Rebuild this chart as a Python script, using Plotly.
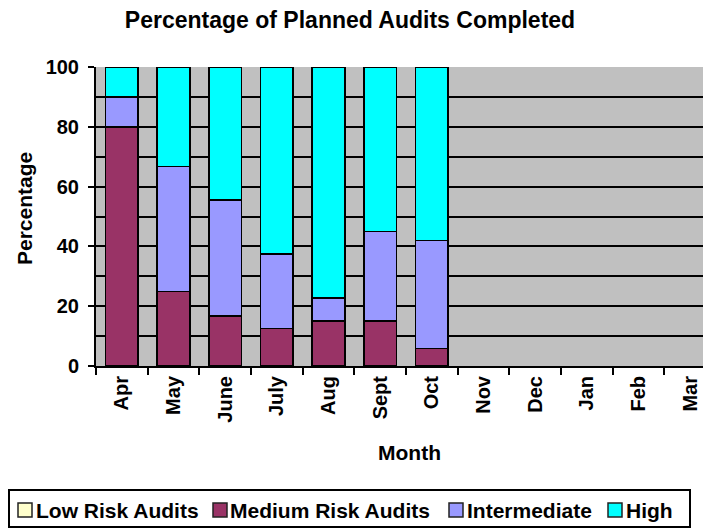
import plotly.graph_objects as go

months = ["Apr", "May", "June", "July", "Aug", "Sept", "Oct", "Nov", "Dec", "Jan", "Feb", "Mar"]
low_risk = [0, 0, 0, 0, 0, 0, 0, None, None, None, None, None]
medium_risk = [80, 25, 16.7, 12.5, 15, 15, 5.9, None, None, None, None, None]
intermediate = [10, 41.7, 38.9, 25, 7.8, 30, 36.1, None, None, None, None, None]
high = [10, 33.3, 44.4, 62.5, 77.2, 55, 58, None, None, None, None, None]

series_names = ["Low Risk Audits", "Medium Risk Audits", "Intermediate", "High"]
series_values = [low_risk, medium_risk, intermediate, high]
series_colors = ["#FFFFCC", "#993366", "#9999FF", "#00FFFF"]

FONT = "Arial, Liberation Sans, sans-serif"

# page body has an 8px margin; figure coordinates = screen - 8
W, H = 711, 529
ML, MT, PW, PH = 88, 59, 620, 299
MR = W - ML - PW
MB = H - MT - PH
OFF = 8


def px(sx):
    return (sx - OFF - ML) / PW


def py(sy):
    return (MT + PH - (sy - OFF)) / PH


fig = go.Figure()
for name, vals, color in zip(series_names, series_values, series_colors):
    fig.add_trace(go.Bar(
        x=months, y=vals, name=name, showlegend=False,
        marker=dict(color=color, line=dict(color="black", width=1.5)),
    ))

shapes = []
annotations = []

# legend box (custom, drawn from the series list)
shapes.append(dict(type="rect", xref="paper", yref="paper",
                   x0=px(9), x1=px(690), y0=py(490), y1=py(527),
                   line=dict(color="black", width=2), fillcolor="white", layer="above"))
sym_x = [18, 213, 449, 608]
txt_x = [34, 228, 465, 624]
for name, color, sx, tx in zip(series_names, series_colors, sym_x, txt_x):
    shapes.append(dict(type="rect", xref="paper", yref="paper",
                       x0=px(sx), x1=px(sx + 14), y0=py(503), y1=py(517),
                       line=dict(color="#222222", width=1.5), fillcolor=color, layer="above"))
    annotations.append(dict(text=name, xref="paper", yref="paper",
                            x=px(tx), y=py(510), xanchor="left", yanchor="middle",
                            showarrow=False,
                            font=dict(size=21, family=FONT, weight="bold", color="black")))

# axis titles
annotations.append(dict(text="Percentage", xref="paper", yref="paper",
                        x=px(24), y=py(209), xanchor="center", yanchor="middle",
                        textangle=-90, showarrow=False,
                        font=dict(size=21, family=FONT, weight="bold", color="black")))
annotations.append(dict(text="Month", xref="paper", yref="paper",
                        x=px(409), y=py(452), xanchor="center", yanchor="middle",
                        showarrow=False,
                        font=dict(size=21, family=FONT, weight="bold", color="black")))

fig.update_layout(
    barmode="stack",
    bargap=0.37,
    width=W, height=H,
    margin=dict(l=ML, r=MR, t=MT, b=MB, autoexpand=False),
    paper_bgcolor="white",
    plot_bgcolor="#C0C0C0",
    font=dict(family=FONT, color="black"),
    title=dict(text="Percentage of Planned Audits Completed",
               x=(350 - OFF) / W, xanchor="center", y=1 - (20 - OFF) / H, yanchor="middle",
               font=dict(size=23, family=FONT, weight="bold")),
    showlegend=False,
    shapes=shapes,
    annotations=annotations,
)

fig.update_xaxes(
    automargin=False,
    showline=True, linecolor="black", linewidth=2,
    ticks="outside", tickson="boundaries", ticklen=7, tickwidth=2, tickcolor="black",
    tickangle=-90, tickfont=dict(size=20, family=FONT, weight="bold"),
    showgrid=False,
)
fig.update_yaxes(
    automargin=False,
    range=[0, 100], dtick=20,
    showline=True, linecolor="black", linewidth=2,
    ticks="outside", ticklen=6, tickwidth=2, tickcolor="black",
    ticklabelstandoff=5,
    tickfont=dict(size=20, family=FONT, weight="bold"),
    showgrid=True, gridcolor="black", gridwidth=2,
    minor=dict(dtick=10, showgrid=True, gridcolor="black", gridwidth=2),
    zeroline=False,
)

fig.write_html("out.html")
